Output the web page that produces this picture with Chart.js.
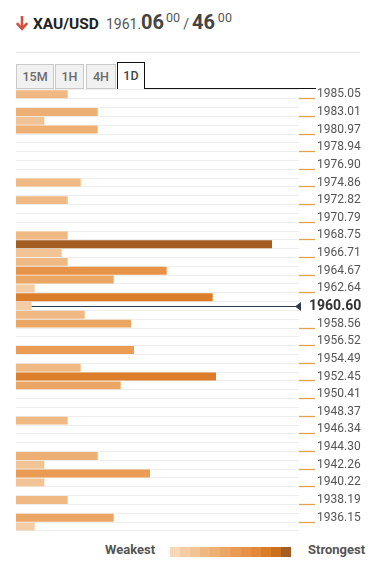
<!DOCTYPE html>
<html>
<head>
<meta charset="utf-8">
<script src="https://cdn.jsdelivr.net/npm/chart.js@4/dist/chart.umd.min.js"></script>
<style>
  html, body { margin:0; padding:0; background:#fff; width:375px; height:575px; overflow:hidden; font-family: Roboto, "Noto Sans", sans-serif; }
  .abs { position:absolute; }
  .tab { position:absolute; box-sizing:border-box; background:#f1f1f1; border:1px solid #c9c9c9; color:#6a6a6a; font-size:12.5px; font-weight:500; text-align:center; line-height:23px; z-index:2; }
  .tab.active { background:#fff; border:1.5px solid #111; border-bottom:none; color:#444; line-height:26px; }
  #chartWrap { position:absolute; left:0; top:80px; width:375px; height:460px; z-index:1; }
</style>
</head>
<body>
<svg class="abs" style="left:15px;top:15px" width="14" height="16" viewBox="0 0 14 16">
  <path d="M7 1 L7 13.5" stroke="#d4503f" stroke-width="2.6" fill="none"/>
  <path d="M1.8 8.2 L7 13.8 L12.2 8.2" stroke="#d4503f" stroke-width="2.6" fill="none" stroke-linejoin="miter"/>
</svg>
<div class="abs" style="left:33px;top:12px;line-height:20px;white-space:nowrap;">
  <span style="font-size:15.5px;font-weight:700;color:#222;">XAU/USD</span><span style="font-size:14px;color:#555;margin-left:7px;">1961.</span><span style="font-size:20px;font-weight:700;color:#444;">06</span><span style="font-size:12.5px;color:#555;position:relative;top:-7px;margin-left:2px;">00</span><span style="font-size:14px;color:#555;margin-left:3px;">/</span><span style="font-size:20px;font-weight:700;color:#444;margin-left:3px;">46</span><span style="font-size:12.5px;color:#555;position:relative;top:-7px;margin-left:3px;">00</span>
</div>
<div class="abs" style="left:16px;top:52px;width:344px;height:1px;background:#e6e6e6;"></div>

<div class="tab" style="left:16px;top:64px;width:38px;height:25px;">15M</div>
<div class="tab" style="left:55px;top:64px;width:29px;height:25px;">1H</div>
<div class="tab" style="left:86px;top:64px;width:30px;height:25px;">4H</div>
<div class="tab active" style="left:117px;top:62px;width:28px;height:27px;">1D</div>
<div class="abs" style="left:144px;top:87.5px;width:172px;height:1.5px;background:#111;z-index:2;"></div>

<div id="chartWrap"><canvas id="c" width="375" height="460"></canvas></div>

<div class="abs" style="left:105px;top:541px;font-size:13px;font-weight:700;color:#555;line-height:18px;">Weakest</div>
<div id="legendBar" class="abs" style="left:170px;top:546.5px;height:10px;width:121px;display:flex;"></div>
<div class="abs" style="left:308px;top:541px;font-size:13px;font-weight:700;color:#555;line-height:18px;">Strongest</div>

<script>
// ---- data ----
const tickLabels = ['1985.05','1983.01','1980.97','1978.94','1976.90','1974.86','1972.82','1970.79','1968.75','1966.71','1964.67','1962.64','1960.60','1958.56','1956.52','1954.49','1952.45','1950.41','1948.37','1946.34','1944.30','1942.26','1940.22','1938.19','1936.15'];
// one value per price row (two rows per tick label), top to bottom
const strength = [51.7,0,81.7,28.3,81.7,0,0,0,0,0,
                  64.7,0,51.7,0,0,0,51.7,256,45.7,51.7,
                  150.7,97.7,18.7,196.7,15.7,68.7,115,0,0,118,
                  0,64.7,200,104.7,0,0,0,51.7,0,0,
                  0,81.7,28.3,134,28.3,0,51.7,0,97.7,18.7];
const currentPrice = '1960.60';
const palette = ['#f7d7b6','#f4cda5','#f2c394','#f0b983','#eeaf72','#eca663','#ea9c54','#e79247','#e4883a','#dc7e29','#c8701f','#a45e22'];
const maxStrength = 256;
const axisMax = 283;

// legend swatches
const lb = document.getElementById('legendBar');
palette.forEach(c => { const d = document.createElement('div'); d.style.flex = '1'; d.style.background = c; lb.appendChild(d); });

const rowLabels = [];
tickLabels.forEach(t => { rowLabels.push(t); rowLabels.push(''); });
const currentRow = rowLabels.indexOf(currentPrice);

function colorFor(v) {
  const i = Math.min(palette.length - 1, Math.ceil(v / maxStrength * (palette.length - 1)));
  return palette[i];
}

const currentPlugin = {
  id: 'currentPrice',
  afterDatasetsDraw(chart) {
    const ctx = chart.ctx;
    const ys = chart.scales.y, xs = chart.scales.x;
    const y = Math.round(ys.getPixelForValue(currentRow)) + 0.5;
    const x0 = xs.getPixelForValue(strength[currentRow]);
    const tip = chart.chartArea.right - 4;
    ctx.save();
    ctx.strokeStyle = '#2c3b4c';
    ctx.fillStyle = '#2c3b4c';
    ctx.lineWidth = 1.2;
    ctx.beginPath(); ctx.moveTo(x0, y); ctx.lineTo(tip + 3, y); ctx.stroke();
    ctx.beginPath(); ctx.moveTo(tip, y); ctx.lineTo(tip + 6, y - 4.5); ctx.lineTo(tip + 6, y + 4.5); ctx.closePath(); ctx.fill();
    ctx.font = 'bold 14px Roboto';
    ctx.fillStyle = '#333';
    ctx.textBaseline = 'middle';
    ctx.textAlign = 'left';
    ctx.fillText(currentPrice, chart.chartArea.right + 10, y);
    ctx.restore();
  }
};

new Chart(document.getElementById('c'), {
  type: 'bar',
  data: {
    labels: rowLabels,
    datasets: [{
      data: strength,
      backgroundColor: strength.map(colorFor),
      borderWidth: 0,
      barPercentage: 0.9,
      categoryPercentage: 1
    }]
  },
  options: {
    indexAxis: 'y',
    responsive: false,
    animation: false,
    events: [],
    layout: { padding: { left: 16, top: 9.9, bottom: 9.1, right: 0 } },
    plugins: { legend: { display: false }, tooltip: { enabled: false } },
    scales: {
      x: { display: false, min: 0, max: axisMax },
      y: {
        position: 'right',
        offset: true,
        border: { display: false },
        grid: {
          offset: true,
          color: '#eeeeee',
          lineWidth: 1,
          tickLength: 16,
          tickWidth: 1.3,
          tickColor: (c) => (c.index % 2 === 1 && c.index !== currentRow + 1) ? '#e3a24a' : 'rgba(0,0,0,0)'
        },
        ticks: {
          autoSkip: false,
          padding: 2,
          color: '#555',
          font: { family: 'Roboto', size: 12 },
          callback: (v, i) => (i === currentRow ? '' : rowLabels[i])
        },
        afterFit(scale) { scale.width = 76; scale.paddingTop = 0; scale.paddingBottom = 0; }
      }
    }
  },
  plugins: [currentPlugin]
});
</script>
</body>
</html>
